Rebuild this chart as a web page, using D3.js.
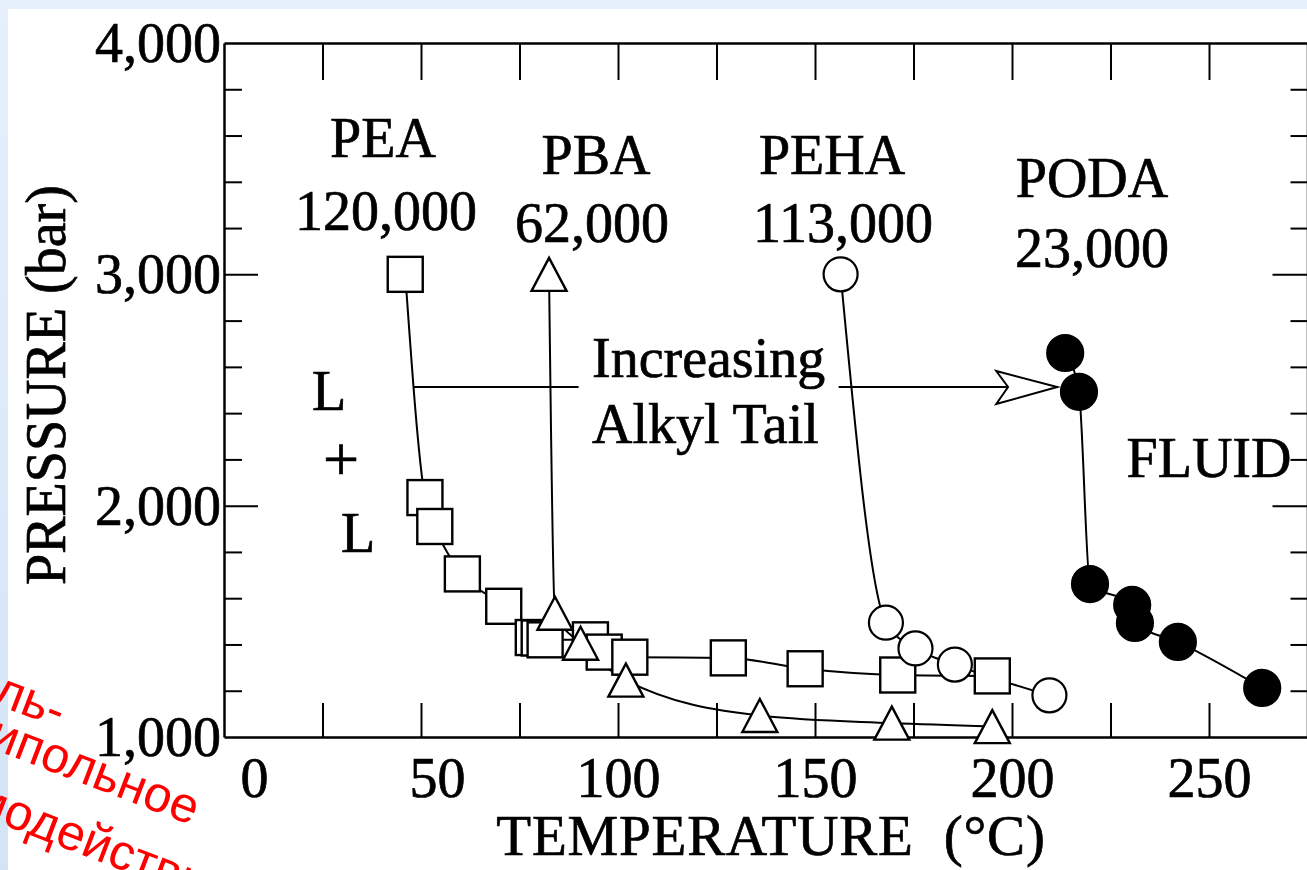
<!DOCTYPE html>
<html>
<head>
<meta charset="utf-8">
<script src="https://cdn.jsdelivr.net/npm/d3@7"></script>
<style>
body { margin: 0; background: #ffffff; overflow: hidden; }
svg { display: block; }
text { font-family: "Liberation Serif", "Times New Roman", serif; fill: #000; }
.fig text { stroke: #000; stroke-width: 0.7px; }
</style>
</head>
<body>
<svg class="chart"></svg>
<script>
// Phase boundary data (temperature in C, pressure in bar)
var peaTemp = [46, 51, 53.5, 60.5, 71, 78.5, 80, 81.5, 93, 96.5, 103, 128, 147.5, 171, 195];
var peaPres = [3000, 2035, 1910, 1705, 1565, 1430, 1428, 1420, 1420, 1367, 1345, 1342, 1295, 1268, 1264];
var pbaTemp = [82.5, 84, 90.5, 102, 136, 169.5, 195];
var pbaPres = [3000, 1535, 1405, 1246, 1093, 1060, 1045];
var pehaTemp = [156.5, 168, 175.5, 185.5, 209.5];
var pehaPres = [3000, 1494, 1383, 1313, 1180];
var podaTemp = [213.5, 217, 219.8, 230.5, 231.2, 242.1, 263.5];
var podaPres = [2660, 2492, 1661, 1571, 1493, 1411, 1212];

// Axis ticks and labels
var xTickValues = [25, 50, 75, 100, 125, 150, 175, 200, 225, 250];
var xLabelValues = [0, 50, 100, 150, 200, 250];
var yMinorValues = [1200, 1400, 1600, 1800, 2200, 2400, 2600, 2800, 3200, 3400, 3600, 3800];
var yMajorValues = [2000, 3000];
var yLabelValues = [1000, 2000, 3000, 4000];

// Text in the figure
var polymerNames = ["PEA", "PBA", "PEHA", "PODA"];
var polymerMw = ["120,000", "62,000", "113,000", "23,000"];
var arrowText = ["Increasing", "Alkyl Tail"];
var twoPhaseText = ["L", "+", "L"];
var fluidText = "FLUID";
var xTitle = "TEMPERATURE  (\u00B0C)";
var yTitle = "PRESSURE (bar)";
var slideText = ["Диполь-", "дипольное", "взаимодействие"];

var W = 1307, H = 870;
var svg = d3.select(".chart").attr("width", W).attr("height", H);

// Slide background (light blue) with the white figure on top
var defs = svg.append("defs");
var grad = defs.append("linearGradient").attr("id", "bg")
	.attr("x1", 0).attr("y1", 0).attr("x2", 0).attr("y2", 1);
grad.append("stop").attr("offset", 0).attr("stop-color", "#e6effc");
grad.append("stop").attr("offset", 1).attr("stop-color", "#d3e4f7");
svg.append("rect").attr("width", W).attr("height", H).attr("fill", "url(#bg)");
svg.append("rect").attr("x", 8).attr("y", 9).attr("width", W).attr("height", H).attr("fill", "#fff");

// Scales
var x = d3.scaleLinear().domain([0, 275]).range([224, 1307.5]);
var y = d3.scaleLinear().domain([1000, 4000]).range([737, 43]);

var chart = svg.append("g").attr("class", "fig");

function styleAxis(g, showDomain) {
	g.select(".domain").attr("stroke-width", 2.5).attr("display", showDomain ? null : "none");
	g.selectAll(".tick line").attr("stroke-width", 2);
}

// Frame and ticks (all ticks point inward)
chart.append("g").attr("transform", "translate(" + x(0) + ",0)")
	.call(d3.axisRight(y).tickValues(yMinorValues).tickSize(18).tickSizeOuter(0).tickFormat(""))
	.call(styleAxis, true);
chart.append("g").attr("transform", "translate(" + x(0) + ",0)")
	.call(d3.axisRight(y).tickValues(yMajorValues).tickSize(34).tickSizeOuter(0).tickFormat(""))
	.call(styleAxis, false);
chart.append("g").attr("transform", "translate(" + x(275) + ",0)")
	.call(d3.axisLeft(y).tickValues(yMinorValues).tickSize(17).tickSizeOuter(0).tickFormat(""))
	.call(styleAxis, true);
chart.append("g").attr("transform", "translate(" + x(275) + ",0)")
	.call(d3.axisLeft(y).tickValues(yMajorValues).tickSize(35).tickSizeOuter(0).tickFormat(""))
	.call(styleAxis, false);
chart.append("g").attr("transform", "translate(0," + y(4000) + ")")
	.call(d3.axisBottom(x).tickValues(xTickValues).tickSize(37).tickSizeOuter(0).tickFormat(""))
	.call(styleAxis, true);
chart.append("g").attr("transform", "translate(0," + y(1000) + ")")
	.call(d3.axisTop(x).tickValues(xTickValues).tickSize(34).tickSizeOuter(0).tickFormat(""))
	.call(styleAxis, true);

// Tick labels
var yLab = chart.append("g").attr("transform", "translate(" + x(0) + ",0)")
	.call(d3.axisLeft(y).tickValues(yLabelValues).tickSize(0).tickPadding(3).tickFormat(d3.format(",")));
yLab.select(".domain").remove();
yLab.attr("font-family", null).attr("font-size", 56);
yLab.selectAll("text").attr("dy", "0.33em");

var labelNudge = {0: 30, 50: 16}; // the scanned labels sit right of their ticks
var xLab = chart.append("g").attr("transform", "translate(0," + y(1000) + ")")
	.call(d3.axisBottom(x).tickValues(xLabelValues).tickSize(0).tickPadding(20).tickFormat(d3.format("d")));
xLab.select(".domain").remove();
xLab.attr("font-family", null).attr("font-size", 56);
xLab.selectAll("text").attr("dx", function(d) { return labelNudge[d] || 0; });

// Axis titles
chart.append("text")
	.attr("x", 771).attr("y", 855)
	.attr("text-anchor", "middle").attr("font-size", 57)
	.attr("letter-spacing", 0.8)
	.style("white-space", "pre")
	.text(xTitle);
chart.append("text")
	.attr("transform", "translate(65,385) rotate(-90)")
	.attr("text-anchor", "middle").attr("font-size", 56)
	.text(yTitle);

// Curves through each data set
var series = [
	{ temp: peaTemp, pres: peaPres, shape: "square" },
	{ temp: pbaTemp, pres: pbaPres, shape: "triangle" },
	{ temp: pehaTemp, pres: pehaPres, shape: "open" },
	{ temp: podaTemp, pres: podaPres, shape: "filled" }
];
series.forEach(function(s) {
	s.points = s.temp.map(function(t, i) { return [t, s.pres[i]]; });
});

var line = d3.line()
	.x(function(d) { return x(d[0]); })
	.y(function(d) { return y(d[1]); })
	.curve(d3.curveMonotoneX);

series.forEach(function(s) {
	chart.append("path")
		.attr("d", line(s.points))
		.attr("fill", "none")
		.attr("stroke", "#000")
		.attr("stroke-width", 2);
});

// "Increasing Alkyl Tail" arrow
var arrowP = 2513;
chart.append("line")
	.attr("x1", x(48)).attr("x2", x(90))
	.attr("y1", y(arrowP)).attr("y2", y(arrowP))
	.attr("stroke", "#000").attr("stroke-width", 2);
chart.append("line")
	.attr("x1", x(156)).attr("x2", x(199))
	.attr("y1", y(arrowP)).attr("y2", y(arrowP))
	.attr("stroke", "#000").attr("stroke-width", 2);
chart.append("path")
	.attr("d", "M" + x(196) + "," + (y(arrowP) - 16) +
		"L" + x(211.5) + "," + y(arrowP) +
		"L" + x(196) + "," + (y(arrowP) + 17) +
		"L" + x(199) + "," + y(arrowP) + "Z")
	.attr("fill", "#fff").attr("stroke", "#000").attr("stroke-width", 2)
	.attr("stroke-linejoin", "miter");

// Markers
var half = 17.5;
series.forEach(function(s) {
	var g = chart.append("g");
	s.points.forEach(function(d) {
		var cx = x(d[0]), cy = y(d[1]);
		if (s.shape === "square") {
			g.append("rect")
				.attr("x", cx - half).attr("y", cy - half)
				.attr("width", 2 * half).attr("height", 2 * half)
				.attr("fill", "#fff").attr("stroke", "#000").attr("stroke-width", 2.4);
		} else if (s.shape === "triangle") {
			g.append("path")
				.attr("d", "M" + cx + "," + (cy - 16.5) + "L" + (cx + 17.5) + "," + (cy + 16.5) +
					"L" + (cx - 17.5) + "," + (cy + 16.5) + "Z")
				.attr("fill", "#fff").attr("stroke", "#000").attr("stroke-width", 2.4);
		} else {
			g.append("circle")
				.attr("cx", cx).attr("cy", cy)
				.attr("r", s.shape === "filled" ? 18 : 17)
				.attr("fill", s.shape === "filled" ? "#000" : "#fff")
				.attr("stroke", "#000").attr("stroke-width", 2.2);
		}
	});
});

// Polymer names and molecular weights
var nameSpots = [[383, 157], [596, 174], [832, 174], [1092, 197]];
var mwSpots = [[386, 230], [592, 242], [843, 242], [1092, 267]];
polymerNames.forEach(function(n, i) {
	chart.append("text").attr("x", nameSpots[i][0]).attr("y", nameSpots[i][1])
		.attr("text-anchor", "middle").attr("font-size", 56).text(n);
	chart.append("text").attr("x", mwSpots[i][0]).attr("y", mwSpots[i][1])
		.attr("text-anchor", "middle").attr("font-size", 56).text(polymerMw[i]);
});

arrowText.forEach(function(t, i) {
	chart.append("text").attr("x", 592).attr("y", i === 0 ? 377 : 443)
		.attr("font-size", 56).text(t);
});

var phaseSpots = [[329, 410], [341, 481], [358, 552]];
twoPhaseText.forEach(function(t, i) {
	chart.append("text").attr("x", phaseSpots[i][0]).attr("y", phaseSpots[i][1])
		.attr("text-anchor", "middle").attr("font-size", i === 1 ? 64 : 56)
		.attr("stroke-width", i === 1 ? 2 : null)
		.text(t);
});

chart.append("text").attr("x", 1209).attr("y", 477)
	.attr("text-anchor", "middle").attr("font-size", 56).text(fluidText);

// Red slide caption, rotated, running off the left edge
var slideStarts = [[-117, 661], [-41, 736], [-129, 774]];
slideText.forEach(function(t, i) {
	svg.append("text")
		.attr("transform", "translate(" + slideStarts[i][0] + "," + slideStarts[i][1] + ") rotate(21)")
		.style("font-family", "'Liberation Sans', Arial, sans-serif")
		.style("fill", "#ff0000")
		.attr("font-size", 50)
		.text(t);
});
</script>
</body>
</html>
